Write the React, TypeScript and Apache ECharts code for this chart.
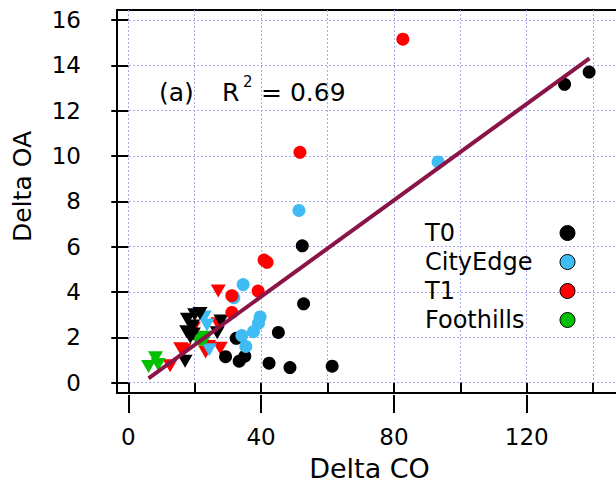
import React, { useEffect, useRef } from "react";
import * as echarts from "echarts";

const FONT = "DejaVu Sans";

// Tick values
const xMajorTicks = [0, 40, 80, 120];
const xAllTicks = [0, 20, 40, 60, 80, 100, 120, 140];
const yTicks = [0, 2, 4, 6, 8, 10, 12, 14, 16];

// Legend categories
const groups = ["T0", "CityEdge", "T1", "Foothills"];
const groupColors = ["#000000", "#3fbcf4", "#ff0000", "#00c000"];

// Circle markers [Delta CO, Delta OA]
const t0Circles = [
  [131.4, 13.16], [138.8, 13.7], [52.4, 6.04], [52.8, 3.48], [45.2, 2.22],
  [32.5, 1.96], [29.3, 1.15], [33.4, 0.95], [35.1, 1.17], [42.4, 0.86],
  [48.7, 0.67], [61.4, 0.73],
];
const cityEdgeCircles = [
  [93.3, 9.74], [51.4, 7.6], [34.6, 4.33], [31.8, 3.75], [39.7, 2.9],
  [39.2, 2.62], [37.7, 2.25], [34.2, 2.08], [35.4, 1.6],
];
const t1Circles = [
  [82.7, 15.15], [51.7, 10.16], [40.9, 5.41], [41.8, 5.31], [39.1, 4.04],
  [31.2, 3.84], [31.2, 3.1],
];
const foothillsCircles = [[21.8, 1.92]];

// Down-triangle markers
const t0Triangles = [
  [17.1, 0.95], [17.6, 2.25], [18.7, 2.0], [19.4, 2.5], [17.8, 2.8],
  [20.0, 3.0], [21.6, 3.05], [19.6, 2.15], [26.8, 2.2], [27.9, 2.72],
];
const cityEdgeTriangles = [[22.9, 2.9], [23.7, 2.55], [24.4, 1.45]];
const t1Triangles = [
  [12.6, 0.75], [15.8, 1.5], [16.8, 1.45], [23.3, 1.35], [24.2, 1.6], [27.7, 1.52],
  [27.1, 4.05], [27.0, 2.6], [19.6, 2.4],
];
const foothillsTriangles = [[6.1, 0.72], [8.2, 1.1], [9.0, 0.8], [22.6, 1.95], [23.4, 2.0]];

// Regression line end points
const fitLine = [[6.1, 0.19], [138.9, 14.31]];

export default function App() {
  const ref = useRef<HTMLDivElement>(null);

  useEffect(() => {
    const chart = echarts.init(ref.current!, null, { renderer: "svg" });

    const circleSets = [t0Circles, cityEdgeCircles, t1Circles, foothillsCircles];
    const triangleSets = [t0Triangles, cityEdgeTriangles, t1Triangles, foothillsTriangles];
    const triOrder = [2, 1, 3, 0];

    const series: any[] = [];
    triOrder.forEach((i) => {
      series.push({
        name: groups[i] + " (triangles)",
        type: "scatter",
        data: triangleSets[i],
        symbol: "triangle",
        symbolRotate: 180,
        symbolSize: [15, 13],
        itemStyle: { color: groupColors[i], opacity: 1 },
        z: 2,
      });
    });
    groups.forEach((g, i) => {
      series.push({
        name: g,
        type: "scatter",
        data: circleSets[i],
        symbol: "circle",
        symbolSize: 13,
        itemStyle: { color: groupColors[i], opacity: 1 },
        z: 3,
      });
    });
    series.push({
      name: "fit",
      type: "line",
      data: fitLine,
      showSymbol: false,
      symbol: "none",
      lineStyle: { color: "#8a1447", width: 4 },
      z: 5,
    });

    const gridLine = { show: true, lineStyle: { color: "#a9a9f2", type: [2, 2], width: 1 } };

    chart.setOption({
      animation: false,
      backgroundColor: "#ffffff",
      textStyle: { fontFamily: FONT },
      grid: {
        left: 117,
        top: 10,
        width: 505,
        height: 383,
        containLabel: false,
        outerBoundsMode: "none",
        show: true,
        borderColor: "#000",
        borderWidth: 2,
        backgroundColor: "transparent",
      },
      legend: {
        data: groups,
        orient: "vertical",
        left: 420,
        top: 216,
        align: "right",
        itemWidth: 15,
        itemHeight: 15,
        itemGap: 5,
        icon: "circle",
        itemStyle: { borderColor: "#000", borderWidth: 1, opacity: 1 },
        formatter: "{a|{name}}",
        textStyle: {
          rich: {
            a: { width: 130, align: "left", fontSize: 24, lineHeight: 24, fontFamily: FONT, color: "#000" },
          },
        },
      },
      xAxis: [
        {
          type: "value",
          min: -3.4,
          max: 148.7,
          position: "bottom",
          offset: 2,
          axisLine: { show: false },
          axisTick: { show: true, customValues: xAllTicks, length: 10, lineStyle: { color: "#000", width: 2 } },
          axisLabel: { show: false },
          splitLine: gridLine,
        },
        {
          type: "value",
          min: -3.4,
          max: 148.7,
          position: "bottom",
          offset: 2,
          axisLine: { show: false },
          axisTick: { show: true, customValues: xMajorTicks, length: 18, lineStyle: { color: "#000", width: 2 } },
          axisLabel: {
            show: true,
            customValues: xMajorTicks,
            fontSize: 23,
            color: "#000",
            margin: 30,
            fontFamily: FONT,
          },
          splitLine: { show: false },
          name: "Delta CO",
          nameLocation: "middle",
          nameGap: 60,
          nameTextStyle: { fontSize: 27, color: "#000", fontFamily: FONT },
        },
      ],
      yAxis: {
        type: "value",
        min: -0.454,
        max: 16.44,
        axisLine: { show: false },
        axisTick: { show: true, customValues: yTicks, length: 17, lineStyle: { color: "#000", width: 2 } },
        axisLabel: { show: true, customValues: yTicks, fontSize: 23, color: "#000", margin: 36, fontFamily: FONT },
        splitLine: gridLine,
        name: "Delta OA",
        nameLocation: "middle",
        nameGap: 82,
        nameTextStyle: { fontSize: 25, color: "#000", fontFamily: FONT, padding: [0, 0, 0, 30] },
      },
      graphic: [
        { type: "text", left: 159, top: 80, style: { text: "(a)", fontSize: 25, fontFamily: FONT, fill: "#000" } },
        { type: "text", left: 222, top: 80, style: { text: "R", fontSize: 25, fontFamily: FONT, fill: "#000" } },
        { type: "text", left: 243, top: 74, style: { text: "2", fontSize: 15, fontFamily: FONT, fill: "#000" } },
        { type: "text", left: 261, top: 80, style: { text: "= 0.69", fontSize: 25, fontFamily: FONT, fill: "#000" } },
      ],
      series,
    });

    return () => chart.dispose();
  }, []);

  return (
    <div
      ref={ref}
      style={{ position: "absolute", left: 0, top: 0, width: 616, height: 483, background: "#fff" }}
    />
  );
}
